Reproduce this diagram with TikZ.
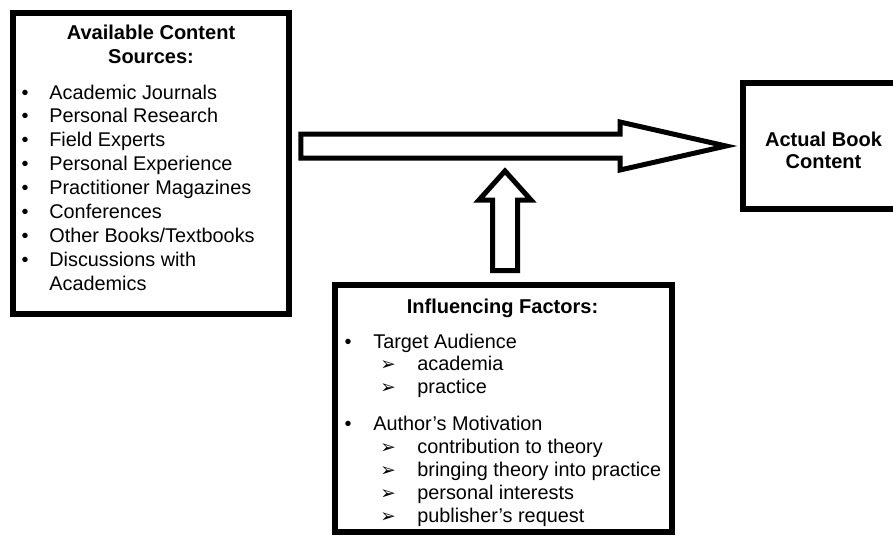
\documentclass[tikz,border=0pt]{standalone}
\usepackage{fontspec}
\setmainfont{Liberation Sans}
\newfontfamily\dingfont{DejaVu Sans}
\usetikzlibrary{calc}

\tikzset{
  box/.style={draw, line width=0.12cm, inner sep=0pt},
  bigarrow/.style={draw, line width=0.1cm, fill=white, line join=miter},
  head/.style={anchor=base, inner sep=0pt, font=\fontsize{11.4}{13.6}\selectfont\bfseries},
  item/.style={anchor=base west, inner sep=0pt},
  dot/.style={anchor=base, inner sep=0pt},
  sub/.style={anchor=base, inner sep=0pt, font=\dingfont\fontsize{10.5}{12}\selectfont},
}

\begin{document}
\begin{tikzpicture}[x=0.02cm, y=-0.02cm, font=\fontsize{11.3}{13.6}\selectfont]
\useasboundingbox (0,0) rectangle (893,535);
\clip (0,0) rectangle (893,535);

% Caixas
\node[box, minimum width=5.52cm, minimum height=6.02cm] (src) at (151,163.5) {};
\node[box, minimum width=3.2cm, minimum height=2.52cm] (book) at (823,146) {};
\node[box, minimum width=6.74cm, minimum height=4.95cm] (inf) at (503.5,408.75) {};

% Fontes disponiveis
\node[head] (srcA) at (151,39) {Available Content};
\node[head] (srcB) at (151,63) {Sources:};
\foreach \t [count=\i from 0] in {Academic Journals, Personal Research, Field Experts,
    Personal Experience, Practitioner Magazines, Conferences,
    Other Books/Textbooks, Discussions with} {
  \node[dot] at (25,{99+23.9*\i}) {•};
  \node[item] (s\i) at (49,{99+23.9*\i}) {\t};
}
\node[item] (s8) at (49,{99+23.9*8}) {Academics};

% Conteudo do livro
\node[head] (bookA) at (823.5,146) {Actual Book};
\node[head] (bookB) at (823.5,168) {Content};

% Fatores
\node[head] (infT) at (502.5,313) {Influencing Factors:};
\node[dot] at (348,348) {•};
\node[item] (aud) at (373,348) {Target Audience};
\foreach \t/\y [count=\i] in {academia/370, practice/393} {
  \node[sub] at (388,\y) {➢};
  \node[item] (aud\i) at (417,\y) {\t};
}
\node[dot] at (348,430) {•};
\node[item] (mot) at (373,430) {Author’s Motivation};
\foreach \t/\y [count=\i] in {contribution to theory/453, bringing theory into practice/476,
    personal interests/499, publisher’s request/522} {
  \node[sub] at (388,\y) {➢};
  \node[item] (mot\i) at (417,\y) {\t};
}

% Setas
\coordinate (flowS) at ($(src.east |- book.west)+(9,0)$);
\coordinate (flowE) at ($(book.west)+(-14,0)$);
\draw[bigarrow] ($(flowS)+(0,-12)$) -- ($(flowE)+(-106,-12)$) -- ($(flowE)+(-106,-24)$)
  -- (flowE) -- ($(flowE)+(-106,24)$) -- ($(flowE)+(-106,12)$) -- ($(flowS)+(0,12)$) -- cycle;

\coordinate (upS) at ($(inf.north)+(1.5,-11.5)$);
\coordinate (upE) at ($(upS |- flowS)+(0,25)$);
\draw[bigarrow] ($(upS)+(-12.5,0)$) -- ($(upE)+(-12.5,29)$) -- ($(upE)+(-26,29)$)
  -- (upE) -- ($(upE)+(26,29)$) -- ($(upE)+(12.5,29)$) -- ($(upS)+(12.5,0)$) -- cycle;
\end{tikzpicture}
\end{document}
